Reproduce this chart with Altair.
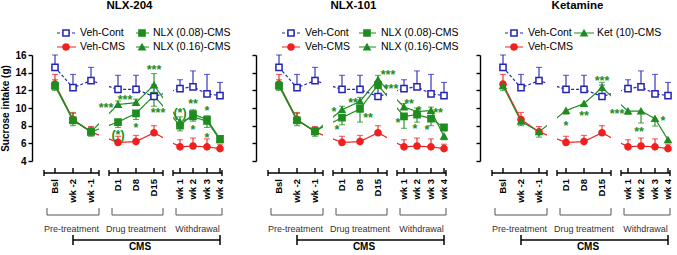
import altair as alt
import pandas as pd

# ---------------- data (sucrose intake, g) ----------------
TIMES = ["Bsl", "wk -2", "wk -1", "D1", "D8", "D15", "wk 1", "wk 2", "wk 3", "wk 4"]

VEH_CONT = [14.6, 12.3, 13.1, 12.1, 12.1, 11.3, 12.2, 12.4, 11.6, 11.4]
VEH_CONT_SEM = [16.0, 13.8, 14.6, 13.7, 13.7, 12.6, 13.2, 14.2, 13.8, 12.9]
VEH_CMS = [12.7, 8.7, 7.3, 6.1, 6.2, 7.2, 5.6, 5.7, 5.6, 5.4]
VEH_CMS_SEM = [13.8, 9.5, 7.9, 6.8, 6.9, 8.0, 6.4, 6.6, 6.5, 5.9]

NLX204_008 = [12.5, 8.6, 7.3, 8.4, 9.4, 11.4, 8.0, 9.3, 8.7, 6.5]
NLX204_008_SEM = [12.0, 8.0, 6.8, 7.8, 8.7, 10.2, 7.4, 8.5, 7.8, 6.1]
NLX204_016 = [12.6, 8.7, 7.3, 10.4, 10.6, 12.6, 8.4, 9.0, 8.5, 6.4]
NLX204_016_SEM = [13.2, 9.4, 7.8, 10.8, 11.0, 13.9, 9.0, 9.8, 9.1, 6.8]

NLX101_008 = [12.5, 8.6, 7.4, 8.9, 9.9, 12.6, 9.05, 9.25, 8.8, 7.8]
NLX101_008_SEM = [12.0, 8.0, 6.8, 8.1, 8.4, 12.2, 7.7, 8.4, 8.0, 7.4]
NLX101_016 = [12.6, 8.7, 7.3, 9.8, 10.75, 13.2, 10.1, 9.6, 9.7, 6.8]
NLX101_016_SEM = [13.2, 9.4, 7.8, 10.2, 11.2, 13.7, 10.5, 10.0, 10.1, 6.4]

KET10 = [12.5, 8.5, 7.3, 9.7, 10.5, 12.3, 9.65, 9.65, 8.8, 6.4]
KET10_SEM = [12.0, 8.0, 6.7, 9.3, 10.2, 12.9, 9.3, 8.3, 7.95, 6.2]

# significance marks: (time point, height in g, label)
STARS_NLX204 = [("D1", 10.3, "***"), ("D8", 11.2, "***"), ("D1", 7.3, "(*)"),
                ("D8", 8.1, "*"), ("D15", 14.6, "***"), ("D15", 9.8, "***"),
                ("wk 1", 9.8, "(*)"), ("wk 2", 10.8, "**"), ("wk 2", 7.8, "*"),
                ("wk 3", 10.0, "*"), ("wk 3", 7.0, "*")]
STARS_NLX101 = [("D1", 9.9, "*"), ("D1", 7.8, "*"), ("D8", 10.9, "**"),
                ("D8", 9.25, "**"), ("D15", 14.1, "***"), ("D15", 12.5, "***"),
                ("wk 1", 10.8, "**"), ("wk 1", 8.6, "*"), ("wk 2", 10.0, "*"),
                ("wk 2", 7.95, "*"), ("wk 3", 9.8, "**"), ("wk 3", 7.85, "*")]
STARS_KET = [("D1", 8.3, "*"), ("D8", 9.4, "**"), ("D15", 13.4, "***"),
             ("wk 1", 9.7, "***"), ("wk 2", 7.6, "**"), ("wk 3", 8.9, "*")]

SECTIONS = ["Pre-treatment", "Drug treatment", "Withdrawal"]

# ---------------- layout / style ----------------
W, H = 195, 106
POS = dict(zip(TIMES, [23, 41, 59, 86, 104, 122, 148, 161, 175, 188]))
SEGMENTS = [(12, 67), (77, 131), (141, 190)]
STAR_DX = {
    "NLX-204": [-12, -11, 0, 0, 0, 4, 0, 0, 0, 0, 0],
    "NLX-101": [-8, -5, -7, 8, 10, 13, 5, -6, 2, -2, 7, -4],
    "Ketamine": [0, 0, 0, -11, -2, 8],
}
LEGEND_COLS = {
    "NLX-204": [(25, 44, 34, 48), (104, 117, 110, 121)],
    "NLX-101": [(26, 44, 35, 49), (103, 120, 111, 125)],
    "Ketamine": [(25, 43, 34, 48), (94, 114, 104, 117)],
}
LEGEND_ROW_Y = [-22, -8]

BLUE, RED, GREEN = "#2424b8", "#f02020", "#1f8c1f"
FONT = "Liberation Sans"

XS = alt.Scale(domain=[0, W], nice=False, zero=False)
YS = alt.Scale(domain=[4, 16], nice=False, zero=False)


def y_axis(show):
    kw = dict(values=[4, 6, 8, 10, 12, 14, 16], grid=False, tickSize=4, tickWidth=1.4,
              tickColor="black", domainColor="black", domainWidth=1.4, labels=show)
    if show:
        kw.update(labelFontSize=10, labelFontWeight="bold", labelColor="black",
                  labelPadding=2, title="Sucrose intake (g)", titleFontSize=10,
                  titleFontWeight="bold", titleColor="black", titlePadding=4)
    else:
        kw.update(title="")
    return alt.Axis(**kw)


def make_panel(title, series, stars, legend_items, show_labels):
    names = [s["name"] for s in series]
    cscale = alt.Scale(domain=names, range=[s["color"] for s in series])
    fscale = alt.Scale(domain=names, range=[s["fill"] for s in series])
    sscale = alt.Scale(domain=names, range=[s["shape"] for s in series])
    dscale = alt.Scale(domain=names, range=[s["dash"] for s in series])
    yax = y_axis(show_labels)

    rows = []
    for s in series:
        for t, v, e in zip(TIMES, s["values"], s["sem"]):
            rows.append({"series": s["name"], "time": t, "x": POS[t], "value": v, "sem": e})
    df = pd.DataFrame(rows)
    pts = pd.concat([df[df.series != "Veh-Cont"], df[df.series == "Veh-Cont"]])

    X = alt.X("x:Q", scale=XS, axis=None)
    Y = alt.Y("value:Q", scale=YS, axis=yax)
    col = alt.Color("series:N", scale=cscale, legend=None)

    lines = alt.Chart(df).mark_line(strokeWidth=1.2).encode(
        x=X, y=Y, color=col,
        strokeDash=alt.StrokeDash("series:N", scale=dscale, legend=None))

    gaps = pd.DataFrame({"x0": [SEGMENTS[0][1], SEGMENTS[1][1]],
                         "x1": [SEGMENTS[1][0], SEGMENTS[2][0]]})
    mask = alt.Chart(gaps).mark_rect(color="white").encode(
        x=alt.X("x0:Q", scale=XS, axis=None), x2="x1:Q",
        y=alt.value(0), y2=alt.value(H))

    err = alt.Chart(df).mark_rule(strokeWidth=1.1).encode(
        x=X, y=Y, y2="sem:Q", color=col)
    caps = alt.Chart(df).mark_tick(orient="horizontal", size=6, thickness=1.1).encode(
        x=X, y=alt.Y("sem:Q", scale=YS, axis=yax), color=col)

    points = alt.Chart(pts).mark_point(size=38, strokeWidth=1.5, opacity=1, fillOpacity=1).encode(
        x=X, y=Y,
        shape=alt.Shape("series:N", scale=sscale, legend=None),
        fill=alt.Fill("series:N", scale=fscale, legend=None),
        stroke=alt.Stroke("series:N", scale=cscale, legend=None),
        order=alt.Order("ord:Q"))
    points = points.transform_calculate(ord="datum.series == 'Veh-Cont' ? 1 : 0")

    sdf = pd.DataFrame({"x": [POS[t] + dx for (t, _, _), dx in zip(stars, STAR_DX[title])],
                        "y": [y for _, y, _ in stars],
                        "label": [lab for _, _, lab in stars]})
    star_layer = alt.Chart(sdf).mark_text(color=GREEN, fontSize=12.5, fontWeight="bold",
                                          baseline="middle", dy=3).encode(
        x=alt.X("x:Q", scale=XS, axis=None),
        y=alt.Y("y:Q", scale=YS, axis=yax), text="label:N")

    # legend drawn inside the panel header
    leg_layers = []
    for r, ry in enumerate(LEGEND_ROW_Y):
        items = [(n, c) for n, c, rr in legend_items if rr == r]
        ldf = pd.DataFrame({
            "series": [n for n, _ in items],
            "x0": [LEGEND_COLS[title][c][0] for _, c in items],
            "x1": [LEGEND_COLS[title][c][1] for _, c in items],
            "xm": [LEGEND_COLS[title][c][2] for _, c in items],
            "xt": [LEGEND_COLS[title][c][3] for _, c in items],
        })
        lb = alt.Chart(ldf)
        leg_layers += [
            lb.mark_rule(strokeWidth=1.2).encode(
                x=alt.X("x0:Q", scale=XS, axis=None), x2="x1:Q", y=alt.value(ry),
                color=col, strokeDash=alt.StrokeDash("series:N", scale=dscale, legend=None)),
            lb.mark_point(size=38, strokeWidth=1.5, opacity=1, fillOpacity=1).encode(
                x=alt.X("xm:Q", scale=XS, axis=None), y=alt.value(ry),
                shape=alt.Shape("series:N", scale=sscale, legend=None),
                fill=alt.Fill("series:N", scale=fscale, legend=None),
                stroke=alt.Stroke("series:N", scale=cscale, legend=None)),
            lb.mark_text(align="left", baseline="middle", fontSize=10.5, color="black").encode(
                x=alt.X("xt:Q", scale=XS, axis=None), y=alt.value(ry), text="series:N"),
        ]

    # broken x axis
    tdf = pd.DataFrame({"x": [POS[t] for t in TIMES], "label": TIMES})
    segdf = pd.DataFrame({"x0": [a for a, b in SEGMENTS], "x1": [b for a, b in SEGMENTS],
                          "xb": [a + 3 for a, b in SEGMENTS],
                          "xc": [(a + b) / 2 for a, b in SEGMENTS], "sec": SECTIONS})
    capdf = pd.DataFrame({"x": [v for seg in SEGMENTS for v in seg]})
    bracket_ends = pd.DataFrame({"x": [v for a, b in SEGMENTS for v in (a + 3, b)]})
    cms = pd.DataFrame({"x0": [POS["wk -2"]], "x1": [POS["wk 4"]], "xc": [POS["D8"] + 4]})
    cms_caps = pd.DataFrame({"x": [POS["wk -2"], POS["wk 4"]]})
    XA = lambda f: alt.X(f, scale=XS, axis=None)
    axis_layers = [
        alt.Chart(segdf).mark_rule(color="black", strokeWidth=1.4).encode(
            x=XA("x0:Q"), x2="x1:Q", y=alt.value(118)),
        alt.Chart(tdf).mark_rule(color="black", strokeWidth=1.4).encode(
            x=XA("x:Q"), y=alt.value(113), y2=alt.value(118)),
        alt.Chart(capdf).mark_rule(color="black", strokeWidth=1.4).encode(
            x=XA("x:Q"), y=alt.value(115), y2=alt.value(121)),
        alt.Chart(tdf).mark_text(angle=270, align="right", baseline="middle", fontSize=9.5,
                                 fontWeight="bold", color="black").encode(
            x=XA("x:Q"), y=alt.value(124), text="label:N"),
        alt.Chart(segdf).mark_rule(color="#555555", strokeWidth=1).encode(
            x=XA("xb:Q"), x2="x1:Q", y=alt.value(160)),
        alt.Chart(bracket_ends).mark_rule(color="#555555", strokeWidth=1).encode(
            x=XA("x:Q"), y=alt.value(153), y2=alt.value(160)),
        alt.Chart(segdf).mark_text(fontSize=9, color="#333333", baseline="middle").encode(
            x=XA("xc:Q"), y=alt.value(174), text="sec:N"),
        alt.Chart(cms).mark_rule(color="black", strokeWidth=1.5).encode(
            x=XA("x0:Q"), x2="x1:Q", y=alt.value(185)),
        alt.Chart(cms_caps).mark_rule(color="black", strokeWidth=1.5).encode(
            x=XA("x:Q"), y=alt.value(180), y2=alt.value(190)),
        alt.Chart(cms).mark_text(fontSize=10, fontWeight="bold", color="black",
                                 baseline="middle").encode(
            x=XA("xc:Q"), y=alt.value(192), text=alt.value("CMS")),
    ]

    return alt.layer(lines, mask, err, caps, points, star_layer, *leg_layers, *axis_layers).properties(
        width=W, height=H,
        title=alt.TitleParams(text=title, fontSize=11.5, fontWeight="bold", anchor="middle",
                              frame="group", offset=15, color="black"))


veh_cont = dict(name="Veh-Cont", values=VEH_CONT, sem=VEH_CONT_SEM, color=BLUE,
                fill="white", shape="square", dash=[3, 2])
veh_cms = dict(name="Veh-CMS", values=VEH_CMS, sem=VEH_CMS_SEM, color=RED,
               fill=RED, shape="circle", dash=[1, 0])

p1 = make_panel("NLX-204", [
    veh_cms,
    dict(name="NLX (0.08)-CMS", values=NLX204_008, sem=NLX204_008_SEM, color=GREEN,
         fill=GREEN, shape="square", dash=[1, 0]),
    dict(name="NLX (0.16)-CMS", values=NLX204_016, sem=NLX204_016_SEM, color=GREEN,
         fill=GREEN, shape="triangle-up", dash=[1, 0]),
    veh_cont], STARS_NLX204,
    [("Veh-Cont", 0, 0), ("NLX (0.08)-CMS", 1, 0), ("Veh-CMS", 0, 1), ("NLX (0.16)-CMS", 1, 1)],
    True)

p2 = make_panel("NLX-101", [
    veh_cms,
    dict(name="NLX (0.08)-CMS", values=NLX101_008, sem=NLX101_008_SEM, color=GREEN,
         fill=GREEN, shape="square", dash=[1, 0]),
    dict(name="NLX (0.16)-CMS", values=NLX101_016, sem=NLX101_016_SEM, color=GREEN,
         fill=GREEN, shape="triangle-up", dash=[1, 0]),
    veh_cont], STARS_NLX101,
    [("Veh-Cont", 0, 0), ("NLX (0.08)-CMS", 1, 0), ("Veh-CMS", 0, 1), ("NLX (0.16)-CMS", 1, 1)],
    False)

p3 = make_panel("Ketamine", [
    veh_cms,
    dict(name="Ket (10)-CMS", values=KET10, sem=KET10_SEM, color=GREEN,
         fill=GREEN, shape="triangle-up", dash=[1, 0]),
    veh_cont], STARS_KET,
    [("Veh-Cont", 0, 0), ("Ket (10)-CMS", 1, 0), ("Veh-CMS", 0, 1)],
    False)

chart = alt.hconcat(p1, p2, p3, spacing=29, bounds="flush").resolve_scale(
    color="independent", fill="independent", shape="independent",
    strokeDash="independent", stroke="independent"
).configure(font=FONT).configure_view(stroke=None).properties(
    padding={"left": 0, "top": 0, "right": 2, "bottom": 0}, background="white")

chart.save("out.html", embed_options={"renderer": "svg", "actions": False})
